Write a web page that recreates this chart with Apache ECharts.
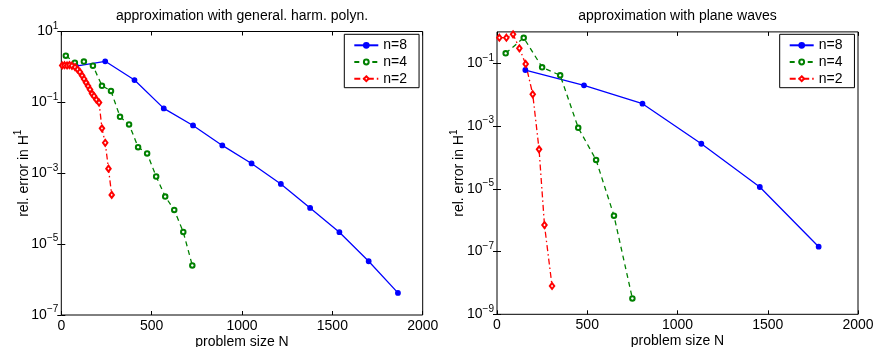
<!DOCTYPE html>
<html>
<head>
<meta charset="utf-8">
<script src="https://cdn.jsdelivr.net/npm/echarts@6/dist/echarts.min.js"></script>
<style>
  html, body { margin: 0; padding: 0; background: #fff; }
  #chart { width: 874px; height: 347px; }
</style>
</head>
<body>
<div id="chart"></div>
<script>
// ---- General harmonic polynomials: problem size N and relative H1 error ----
const harmN8 = [81, 243, 405, 567, 729, 891, 1053, 1215, 1377, 1539, 1701, 1863];
const harmE8 = [1.05, 1.44, 0.427, 0.0676, 0.0223, 0.0061, 0.00189, 5.0e-4, 1.05e-4, 2.17e-5, 3.29e-6, 4.2e-7];

const harmN4 = [25, 75, 125, 175, 225, 275, 325, 375, 425, 475, 525, 575, 625, 675, 725];
const harmE4 = [2.07, 1.32, 1.42, 1.08, 0.294, 0.21, 0.0392, 0.0239, 0.00546, 0.00362, 8.1e-4, 2.2e-4, 9.2e-5, 2.2e-5, 2.5e-6];

const harmN2 = [5, 18, 32, 45, 59, 76, 90, 103, 115, 126, 137, 148, 159, 170, 181, 194, 209, 225, 243, 261, 279];
const harmE2 = [1.10, 1.12, 1.10, 1.13, 1.08, 0.99, 0.85, 0.72, 0.57, 0.455, 0.362, 0.288, 0.230, 0.177, 0.151, 0.120, 0.0987, 0.0185, 0.00723, 0.00135, 2.45e-4];

// ---- Plane waves: problem size N and relative H1 error ----
const waveN8 = [157, 482, 806, 1132, 1456, 1782];
const waveE8 = [0.061, 0.0199, 0.00515, 2.73e-4, 1.14e-5, 1.43e-7];

const waveN4 = [48, 148, 250, 350, 450, 549, 648, 750];
const waveE4 = [0.208, 0.65, 0.0744, 0.0414, 8.8e-4, 8.3e-5, 1.39e-6, 3.2e-9];

const waveN2 = [13, 52, 89, 124, 159, 198, 233, 263, 305];
const waveE2 = [0.653, 0.653, 0.838, 0.30, 0.0948, 0.0103, 1.81e-4, 7.0e-7, 8.0e-9];

// ---- Labels and ticks ----
const panelTitles = ['approximation with general. harm. polyn.', 'approximation with plane waves'];
const seriesNames = ['n=8', 'n=4', 'n=2'];
const xTicks = [0, 500, 1000, 1500, 2000];
const yTicksLeft = [1e1, 1e-1, 1e-3, 1e-5, 1e-7];
const yTicksRight = [1e-1, 1e-3, 1e-5, 1e-7, 1e-9];
const xAxisName = 'problem size N';
const yAxisName = 'rel. error in {b|H}{e|1}';

const FONT = '"Liberation Sans", Arial, Helvetica, sans-serif';
const BLACK = '#000';

// "10" with a raised exponent
const powRich = {
  b: { fontSize: 14, fontFamily: FONT, color: BLACK },
  e: { fontSize: 10, fontFamily: FONT, color: BLACK, padding: [0, 0, 11, 0] }
};
function powLabel(v) {
  const e = Math.round(Math.log10(v));
  return '{b|10}{e|' + (e < 0 ? '\u2212' : '') + Math.abs(e) + '}';
}

const lineStyles = {
  'n=8': { color: '#0000ff', type: 'solid', symbol: 'circle', size: 4.5 },
  'n=4': { color: '#008000', type: [5, 4], symbol: 'emptyCircle', size: 4.5 },
  'n=2': { color: '#ff0000', type: [6, 3, 1.5, 3], symbol: 'emptyDiamond', size: [4.5, 6] }
};

function makeSeries(name, xs, ys, axisIdx) {
  const st = lineStyles[name];
  return {
    name: name,
    type: 'line',
    xAxisIndex: axisIdx,
    yAxisIndex: axisIdx,
    data: xs.map((x, i) => [x, ys[i]]),
    symbol: st.symbol,
    symbolSize: st.size,
    showAllSymbol: true,
    animation: false,
    color: st.color,
    lineStyle: { color: st.color, width: 1.3, type: st.type },
    itemStyle: { color: st.color, borderColor: st.color, borderWidth: 1.3 },
    emphasis: { disabled: true }
  };
}

const grids = [
  { left: 61.3, top: 31.5, width: 361.4, height: 283.5 },
  { left: 497, top: 31.9, width: 361, height: 282.4 }
];

function bottomX(g) {
  return {
    gridIndex: g, type: 'value', position: 'bottom', min: 0, max: 2000, interval: 500,
    axisLine: { show: false },
    axisTick: { inside: true, length: 4, lineStyle: { color: BLACK } },
    axisLabel: { fontSize: 14, fontFamily: FONT, color: BLACK, margin: 4, formatter: v => String(v) },
    splitLine: { show: false },
    name: xAxisName, nameLocation: 'middle', nameGap: 20, nameMoveOverlap: false,
    nameTextStyle: { fontSize: 14, fontFamily: FONT, color: BLACK }
  };
}
function topX(g) {
  return {
    gridIndex: g, type: 'value', position: 'top', min: 0, max: 2000, interval: 500,
    axisLine: { show: false },
    axisTick: { inside: true, length: 4, lineStyle: { color: BLACK } },
    axisLabel: { show: false },
    splitLine: { show: false }
  };
}
function leftY(g, min, max, ticks) {
  return {
    gridIndex: g, type: 'log', logBase: 10, position: 'left', min: min, max: max,
    axisLine: { show: false },
    axisTick: { inside: true, length: 4, lineStyle: { color: BLACK }, customValues: ticks },
    axisLabel: { margin: 3, formatter: powLabel, rich: powRich, customValues: ticks },
    splitLine: { show: false },
    name: yAxisName, nameLocation: 'middle', nameGap: 27, nameMoveOverlap: false,
    nameTextStyle: { fontSize: 14, fontFamily: FONT, color: BLACK, rich: powRich }
  };
}
function rightY(g, min, max, ticks) {
  return {
    gridIndex: g, type: 'log', logBase: 10, position: 'right', min: min, max: max,
    axisLine: { show: false },
    axisTick: { inside: true, length: 4, lineStyle: { color: BLACK }, customValues: ticks },
    axisLabel: { show: false },
    splitLine: { show: false }
  };
}
function legendAt(left) {
  return {
    left: left, top: 34.3, orient: 'vertical', data: seriesNames,
    backgroundColor: '#fff', borderColor: BLACK, borderWidth: 1, borderRadius: 0,
    padding: [4, 12, 2, 9], itemWidth: 24, itemHeight: 6, itemGap: 2.7,
    selectedMode: false,
    textStyle: { fontSize: 14, fontFamily: FONT, color: BLACK }
  };
}

const option = {
  backgroundColor: '#fff',
  animation: false,
  title: [
    { text: panelTitles[0], left: 242, top: 9, textAlign: 'center', padding: 0,
      textStyle: { fontSize: 14, fontWeight: 'normal', fontFamily: FONT, color: BLACK } },
    { text: panelTitles[1], left: 677.5, top: 9, textAlign: 'center', padding: 0,
      textStyle: { fontSize: 14, fontWeight: 'normal', fontFamily: FONT, color: BLACK } }
  ],
  legend: [legendAt(344.3), legendAt(779.7)],
  grid: grids.map(g => Object.assign({
    show: true, borderColor: BLACK, borderWidth: 1, backgroundColor: '#fff',
    containLabel: false, outerBoundsMode: 'none'
  }, g)),
  xAxis: [bottomX(0), bottomX(1), topX(0), topX(1)],
  yAxis: [leftY(0, 1e-7, 10, yTicksLeft), leftY(1, 1e-9, 1, yTicksRight), rightY(0, 1e-7, 10, yTicksLeft), rightY(1, 1e-9, 1, yTicksRight)],
  series: [
    makeSeries('n=8', harmN8, harmE8, 0),
    makeSeries('n=4', harmN4, harmE4, 0),
    makeSeries('n=2', harmN2, harmE2, 0),
    makeSeries('n=8', waveN8, waveE8, 1),
    makeSeries('n=4', waveN4, waveE4, 1),
    makeSeries('n=2', waveN2, waveE2, 1)
  ]
};

const chart = echarts.init(document.getElementById('chart'), null, { renderer: 'canvas' });
chart.setOption(option);
</script>
</body>
</html>
